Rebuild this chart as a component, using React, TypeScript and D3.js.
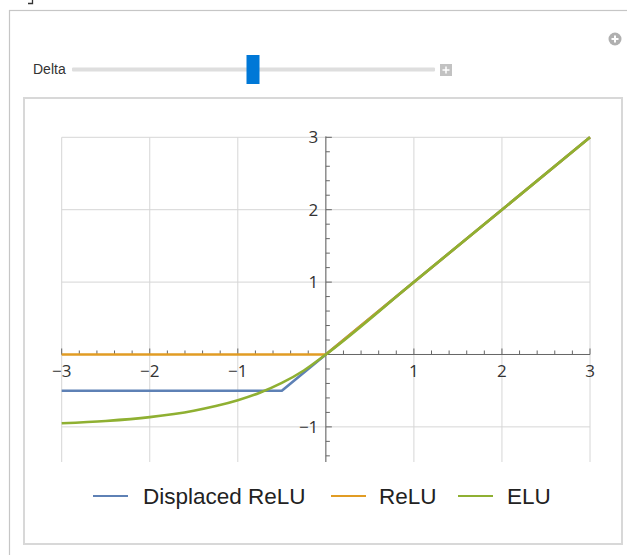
import React from "react";
import * as d3 from "d3";

const seriesNames = ["Displaced ReLU", "ReLU", "ELU"];
const seriesColors = ["#5E81B5", "#E19C24", "#8FB032"];

// Displaced ReLU (delta = 0.5)
const displacedX = [-3, -0.5, 0, 3];
const displacedY = [-0.5, -0.5, 0, 3];
// ReLU
const reluX = [-3, 0, 3];
const reluY = [0, 0, 3];
// ELU
const eluX = [-3, -2.5, -2, -1.5, -1.25, -1, -0.75, -0.5, -0.25, 0, 1, 2, 3];
const eluY = [-0.95, -0.918, -0.865, -0.777, -0.713, -0.632, -0.528, -0.393, -0.221, 0, 1, 2, 3];

const xTicks = [-3, -2, -1, 1, 2, 3];
const yTicks = [-1, 1, 2, 3];
const xGrid = [-3, -2, -1, 0, 1, 2, 3];
const yGrid = [-1, 1, 2, 3];
const sliderLabel = "Delta";
const sliderValue = 0.5;

export default function App() {
  const x = d3.scaleLinear().domain([-3, 3]).range([61.7, 590]);
  const y = d3.scaleLinear().domain([-1.485, 3]).range([462, 137.3]);

  const line = d3
    .line<[number, number]>()
    .x((d) => x(d[0]))
    .y((d) => y(d[1]));
  const smooth = d3
    .line<[number, number]>()
    .x((d) => x(d[0]))
    .y((d) => y(d[1]))
    .curve(d3.curveMonotoneX);

  const zip = (a: number[], b: number[]) => a.map((v, i) => [v, b[i]] as [number, number]);

  const paths = [
    line(zip(displacedX, displacedY)),
    line(zip(reluX, reluY)),
    smooth(zip(eluX, eluY)),
  ];

  const xMinor = d3.range(-3, 3.0001, 0.2).filter((v) => Math.abs(v - Math.round(v)) > 1e-6);
  const yMinor = d3.range(-1.4, 3.0001, 0.2).filter((v) => Math.abs(v - Math.round(v)) > 1e-6);

  const sx = d3.scaleLinear().domain([0, 1]).range([72, 435]);
  const font = "'Open Sans', 'Noto Sans', sans-serif";
  const legendFont = "'Liberation Sans', Arial, sans-serif";
  const axisColor = "#666";

  const legendItems = [
    { lx: 93, tx: 143 },
    { lx: 331, tx: 379 },
    { lx: 458, tx: 507 },
  ];

  return (
    <svg
      width={627}
      height={555}
      style={{ position: "fixed", left: 0, top: 0, background: "#fff" }}
      fontFamily={font}
    >
      {/* corner bracket */}
      <path d="M28,3.5 H32.5 V0" fill="none" stroke="#333" strokeWidth={1.3} />
      {/* outer frame */}
      <rect x={9.5} y={10.5} width={630} height={560} fill="#fff" stroke="#c6c6c6" strokeWidth={1.2} />
      {/* add icon */}
      <circle cx={615} cy={39} r={6.5} fill="#b0b0b0" />
      <path d="M615,35.5 V42.5 M611.5,39 H618.5" stroke="#fff" strokeWidth={2} />
      {/* slider */}
      <text x={33} y={74} fontSize={14} fill="#333" fontFamily={legendFont}>
        {sliderLabel}
      </text>
      <rect x={72} y={67.5} width={363} height={4} fill="#dedede" rx={1} />
      <rect x={sx(sliderValue) - 7} y={55} width={13} height={29} fill="#0078D7" />
      <rect x={440} y={64} width={12} height={12} fill="#c2c2c2" />
      <path d="M446,66.5 V73.5 M442.5,70 H449.5" stroke="#fff" strokeWidth={1.5} />
      {/* inner panel */}
      <rect x={24} y={98} width={598} height={446} fill="#fff" stroke="#d8d8d8" strokeWidth={2} />

      {/* grid */}
      {xGrid.map((v) => (
        <line key={"gx" + v} x1={x(v)} x2={x(v)} y1={y(3)} y2={y(-1.485)} stroke="#d6d6d6" strokeWidth={1} />
      ))}
      {yGrid.map((v) => (
        <line key={"gy" + v} x1={x(-3)} x2={x(3)} y1={y(v)} y2={y(v)} stroke="#d6d6d6" strokeWidth={1} />
      ))}

      {/* axes */}
      <line x1={x(-3)} x2={x(3)} y1={y(0)} y2={y(0)} stroke={axisColor} strokeWidth={1} />
      <line x1={x(0)} x2={x(0)} y1={y(3) - 1} y2={y(-1.485)} stroke={axisColor} strokeWidth={1} />
      {xTicks.map((v) => (
        <line key={"xt" + v} x1={x(v)} x2={x(v)} y1={y(0)} y2={y(0) - 6} stroke={axisColor} />
      ))}
      {xMinor.map((v) => (
        <line key={"xm" + v} x1={x(v)} x2={x(v)} y1={y(0)} y2={y(0) - 4} stroke={axisColor} />
      ))}
      {yTicks.map((v) => (
        <line key={"yt" + v} x1={x(0)} x2={x(0) + 6} y1={y(v)} y2={y(v)} stroke={axisColor} />
      ))}
      {yMinor.map((v) => (
        <line key={"ym" + v} x1={x(0)} x2={x(0) + 4} y1={y(v)} y2={y(v)} stroke={axisColor} />
      ))}

      {/* series */}
      {paths.map((d, i) => (
        <path key={"s" + i} d={d || ""} fill="none" stroke={seriesColors[i]} strokeWidth={2.6} strokeLinejoin="round" />
      ))}

      {/* tick labels */}
      {xTicks.map((v) => (
        <text key={"xl" + v} x={x(v)} y={y(0) + 22.5} fontSize={17} textAnchor="middle" fill="#333">
          {v < 0 ? "\u2212" + Math.abs(v) : String(v)}
        </text>
      ))}
      {yTicks.map((v) => (
        <text key={"yl" + v} x={x(0) - 7.5} y={y(v) + 6} fontSize={17} textAnchor="end" fill="#333">
          {v < 0 ? "\u2212" + Math.abs(v) : String(v)}
        </text>
      ))}

      {/* legend */}
      {legendItems.map((it, i) => (
        <g key={"lg" + i}>
          <line x1={it.lx} x2={it.lx + 35} y1={496} y2={496} stroke={seriesColors[i]} strokeWidth={2.2} />
          <text x={it.tx} y={504} fontSize={22.5} fill="#222" fontFamily={legendFont}>
            {seriesNames[i]}
          </text>
        </g>
      ))}
    </svg>
  );
}
